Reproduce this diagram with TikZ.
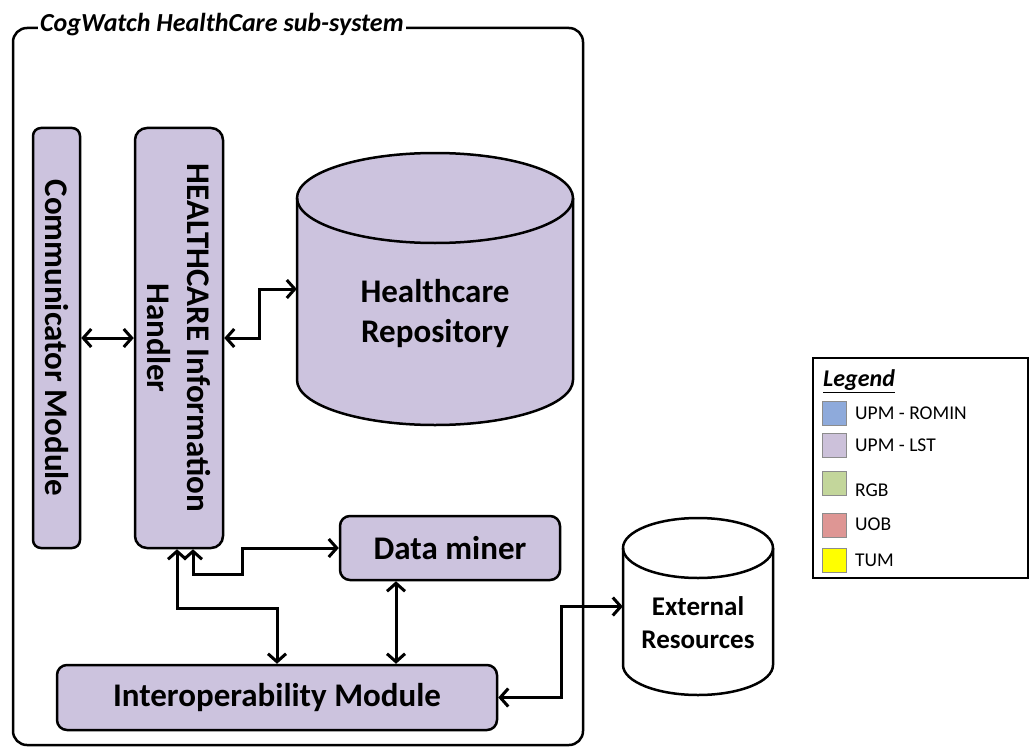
\documentclass[tikz,border=0pt]{standalone}
\usepackage{fontspec}
\setmainfont{Carlito}
\usetikzlibrary{arrows.meta,calc}
\definecolor{lav}{RGB}{204,195,222}
\definecolor{cromin}{RGB}{142,170,219}
\definecolor{clst}{RGB}{204,193,218}
\definecolor{crgb}{RGB}{195,214,155}
\definecolor{cuob}{RGB}{222,150,148}
\definecolor{ctum}{RGB}{255,255,0}
\tikzset{
  modbox/.style={draw=black, fill=lav, line width=2.5pt, rounded corners=10pt, inner sep=0pt},
  biglabel/.style={font=\fontsize{33}{40}\selectfont\bfseries, align=center, inner sep=0pt},
  conn/.style={line width=3pt, {Straight Barb[length=8pt,width=18pt]}-{Straight Barb[length=8pt,width=18pt]}},
  swatch/.style={draw=black!45, line width=0.8pt, minimum width=24pt, minimum height=24pt, inner sep=0pt},
  legtext/.style={font=\fontsize{19.5}{22}\selectfont, anchor=west, inner sep=0pt}
}
\begin{document}
\begin{tikzpicture}[x=1pt,y=-1pt]
\useasboundingbox[fill=white] (0,0) rectangle (1030,749);

% frame
\draw[line width=2.5pt, rounded corners=14pt] (13,28) rectangle (583,745);
\node[fill=white, inner xsep=2pt, inner ysep=1pt, anchor=base west, font=\fontsize{26}{30}\selectfont\bfseries\itshape] (title) at (38,32) {CogWatch HealthCare sub-system};

% modules
\node[modbox, rounded corners=8pt, minimum width=47pt, minimum height=420pt] (comm) at (56.5,338) {};
\node[biglabel, rotate=-90] (commlbl) at (comm.center) {Communicator Module};
\node[modbox, rounded corners=12pt, minimum width=88pt, minimum height=420pt] (hih) at (179,338) {};
\node[biglabel, rotate=-90] (hihlbl) at (hih.center) {HEALTHCARE Information\\Handler};
\node[modbox, minimum width=220pt, minimum height=64pt, biglabel] (dm) at (450,548) {Data miner};
\node[modbox, minimum width=440pt, minimum height=65pt, biglabel] (iop) at (277,697.5) {Interoperability Module};

% healthcare repository cylinder
\fill[lav] (297,198) -- (297,380) arc (180:0:138 and 45) -- (573,198) arc (0:-180:138 and 45) -- cycle;
\draw[line width=2.5pt] (297,198) -- (297,380) arc (180:0:138 and 45) -- (573,198);
\draw[line width=2.5pt] (435,198) ellipse (138 and 45);
\node[minimum width=276pt, minimum height=182pt, inner sep=0pt] (repo) at (435,289) {};
\node[biglabel] (repolbl) at (435,314) {Healthcare\\Repository};

% external resources cylinder
\fill[white] (623,548) -- (623,665) arc (180:0:75 and 30) -- (773,548) arc (0:-180:75 and 30) -- cycle;
\draw[line width=2.5pt] (623,548) -- (623,665) arc (180:0:75 and 30) -- (773,548);
\draw[line width=2.5pt] (698,548) ellipse (75 and 30);
\node[inner sep=0pt, minimum width=150pt, minimum height=117pt] (ext) at (698,606.5) {};
\node[font=\fontsize{27}{33}\selectfont\bfseries, align=center, inner sep=0pt] (extlbl) at (698,623) {External\\Resources};

% connectors
\draw[conn] (comm.east) -- (hih.west);
\draw[conn] (hih.east) -- ++(35,0) |- (repo.west);
\coordinate (hs1) at ($(hih.south)+(14,0)$);
\coordinate (hs2) at ($(hih.south)+(-2,0)$);
\draw[conn] (hs1) -- ++(0,25) -- ++(49,0) |- (dm.west);
\draw[conn] (hs2) -- ++(0,59) -| (iop.north);
\coordinate (dmb) at ($(dm.south)+(-54,0)$);
\draw[conn] (dmb) -- (dmb |- iop.north);
\draw[conn] (iop.east) -- ++(63,0) |- (ext.west);

% legend
\draw[line width=2.5pt] (813,358) rectangle (1028,578);
\node[anchor=west, inner sep=0pt, font=\fontsize{24}{27}\selectfont\bfseries\itshape] (legtitle) at (823,381) {\underline{Legend}};
\node[swatch, fill=cromin] (s1) at (834,413) {};
\node[legtext] (t1) at (855,413) {UPM - ROMIN};
\node[swatch, fill=clst] (s2) at (834,445) {};
\node[legtext] (t2) at (855,445) {UPM - LST};
\node[swatch, fill=crgb] (s3) at (834,483) {};
\node[legtext] (t3) at (855,490) {RGB};
\node[swatch, fill=cuob] (s4) at (834,525) {};
\node[legtext] (t4) at (855,524) {UOB};
\node[swatch, fill=ctum] (s5) at (834,560) {};
\node[legtext] (t5) at (855,560) {TUM};
\end{tikzpicture}
\end{document}
